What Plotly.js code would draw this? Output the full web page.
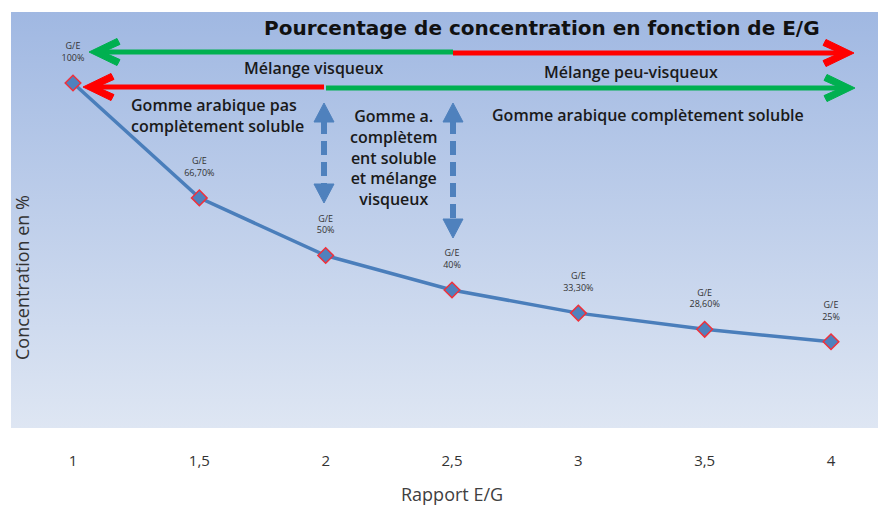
<!DOCTYPE html>
<html><head><meta charset="utf-8">
<script src="https://cdn.plot.ly/plotly-3.0.1.min.js"></script>
<style>html,body{margin:0;padding:0;background:#fff}#chart{width:879px;height:505px}</style>
</head><body><div id="chart"></div>
<script>
// ---- data ----
const ratios = [1, 1.5, 2, 2.5, 3, 3.5, 4];
const concentration = [100, 66.7, 50, 40, 33.3, 28.6, 25];
const pointLabels = ["100%", "66,70%", "50%", "40%", "33,30%", "28,60%", "25%"];
const tickLabels = ["1", "1,5", "2", "2,5", "3", "3,5", "4"];

// ---- pixel helpers for decorations ----
const X = px => 1 + (px - 73) / 252.67;
const Y = py => (428 - py) / 3.45;

const FONT = "Open Sans, DejaVu Sans, sans-serif";
const GREEN = "#00B050", RED = "#FF0000", BLUE = "#4F81BD";

const shapes = [];
function hline(x0, x1, y, color) {
  shapes.push({type:'line', xref:'x', yref:'y', x0:X(x0), x1:X(x1), y0:Y(y), y1:Y(y), line:{color:color, width:5}});
}
function chevron(x, y, dir, color) {
  const p = [[0,0],[-28,13.5],[-31,7.6],[-14,0],[-31,-7.6],[-28,-13.5]].map(q => [q[0]*dir, q[1]]);
  shapes.push({type:'path', xref:'x', yref:'y', xsizemode:'pixel', ysizemode:'pixel',
    xanchor:X(x), yanchor:Y(y), path:'M' + p.map(q => q.join(',')).join('L') + 'Z',
    fillcolor:color, line:{color:color, width:1}});
}
function dashArrow(x, yTop, yBot) {
  shapes.push({type:'line', xref:'x', yref:'y', x0:X(x), x1:X(x), y0:Y(yTop+17), y1:Y(yBot-17),
    line:{color:BLUE, width:6, dash:'14px,7px'}});
  shapes.push({type:'path', xref:'x', yref:'y', xsizemode:'pixel', ysizemode:'pixel',
    xanchor:X(x), yanchor:Y(yTop), path:'M0,0L10,-19L-10,-19Z', fillcolor:BLUE, line:{color:BLUE, width:1}});
  shapes.push({type:'path', xref:'x', yref:'y', xsizemode:'pixel', ysizemode:'pixel',
    xanchor:X(x), yanchor:Y(yBot), path:'M0,0L10,19L-10,19Z', fillcolor:BLUE, line:{color:BLUE, width:1}});
}

hline(94, 453, 52, GREEN); chevron(89, 52, -1, GREEN);
hline(453, 849, 53, RED); chevron(854, 53, 1, RED);
hline(88, 324, 87, RED); chevron(83, 87, -1, RED);
hline(326, 850, 88, GREEN); chevron(855, 88, 1, GREEN);
dashArrow(324, 103, 203);
dashArrow(453, 103, 238);

const txt = (px, py, text, opts) => Object.assign({
  xref:'x', yref:'y', x:X(px), y:Y(py), text:text, showarrow:false,
  font:{family:FONT, size:16, color:'#1a1a1a', weight:600}
}, opts || {});

const annotations = [
  txt(542, 28, 'Pourcentage de concentration en fonction de E/G',
      {font:{family:'DejaVu Sans, sans-serif', size:20, color:'#111', weight:700}}),
  txt(313, 68, 'Mélange visqueux'),
  txt(631, 72, 'Mélange peu-visqueux'),
  txt(129, 115, 'Gomme arabique pas<br>complètement soluble', {xanchor:'left', align:'left'}),
  txt(393, 157, 'Gomme a.<br>complètem<br>ent soluble<br>et mélange<br>visqueux'),
  txt(648, 115, 'Gomme arabique complètement soluble'),
  txt(22, 278, 'Concentration en %', {textangle:-90, font:{family:FONT, size:18, color:'#333'}}),
  {xref:'x', yref:'paper', x:2.5, y:0, yshift:-66, yanchor:'middle', showarrow:false,
   text:'Rapport E/G', font:{family:FONT, size:18, color:'#404040'}}
];

const svg = '<svg xmlns="http://www.w3.org/2000/svg" width="100" height="100" preserveAspectRatio="none">' +
  '<defs><linearGradient id="g" x1="0" y1="0" x2="0" y2="1">' +
  '<stop offset="0" stop-color="#A0B8E2"/><stop offset="1" stop-color="#DEE6F3"/>' +
  '</linearGradient></defs><rect width="100" height="100" fill="url(#g)"/></svg>';

const lineTrace = {
  type:'scatter', x:ratios, y:concentration, mode:'lines+markers',
  line:{color:'#4A7EBB', width:3.5},
  marker:{symbol:'diamond', size:12, color:BLUE, line:{color:'#F0303A', width:1.5}},
  cliponaxis:false, hoverinfo:'skip'
};
const labelTrace = {
  type:'scatter', x:ratios, y:concentration, mode:'markers+text',
  text:pointLabels.map(v => 'G/E<br>' + v),
  textposition:'top center',
  textfont:{family:FONT, size:9, color:'#333'},
  marker:{size:30, color:'rgba(0,0,0,0)'},
  cliponaxis:false, hoverinfo:'skip'
};

const layout = {
  width:879, height:505,
  margin:{l:11, r:1, t:12, b:77},
  paper_bgcolor:'#fff', plot_bgcolor:'rgba(0,0,0,0)',
  showlegend:false,
  images:[{source:'data:image/svg+xml;charset=utf-8,' + encodeURIComponent(svg),
    xref:'paper', yref:'paper', x:0, y:1, sizex:1, sizey:1, sizing:'stretch',
    xanchor:'left', yanchor:'top', layer:'below'}],
  xaxis:{range:[X(11), X(878)], tickvals:ratios, ticktext:tickLabels,
    showgrid:false, zeroline:false, showline:false,
    ticks:'outside', ticklen:19, tickcolor:'rgba(0,0,0,0)',
    tickfont:{family:FONT, size:15, color:'#333'}},
  yaxis:{range:[0, Y(12)], showticklabels:false, showgrid:false, zeroline:false, showline:false, ticks:''},
  shapes:shapes, annotations:annotations
};

Plotly.newPlot('chart', [lineTrace, labelTrace], layout, {displayModeBar:false, staticPlot:true});
</script></body></html>
